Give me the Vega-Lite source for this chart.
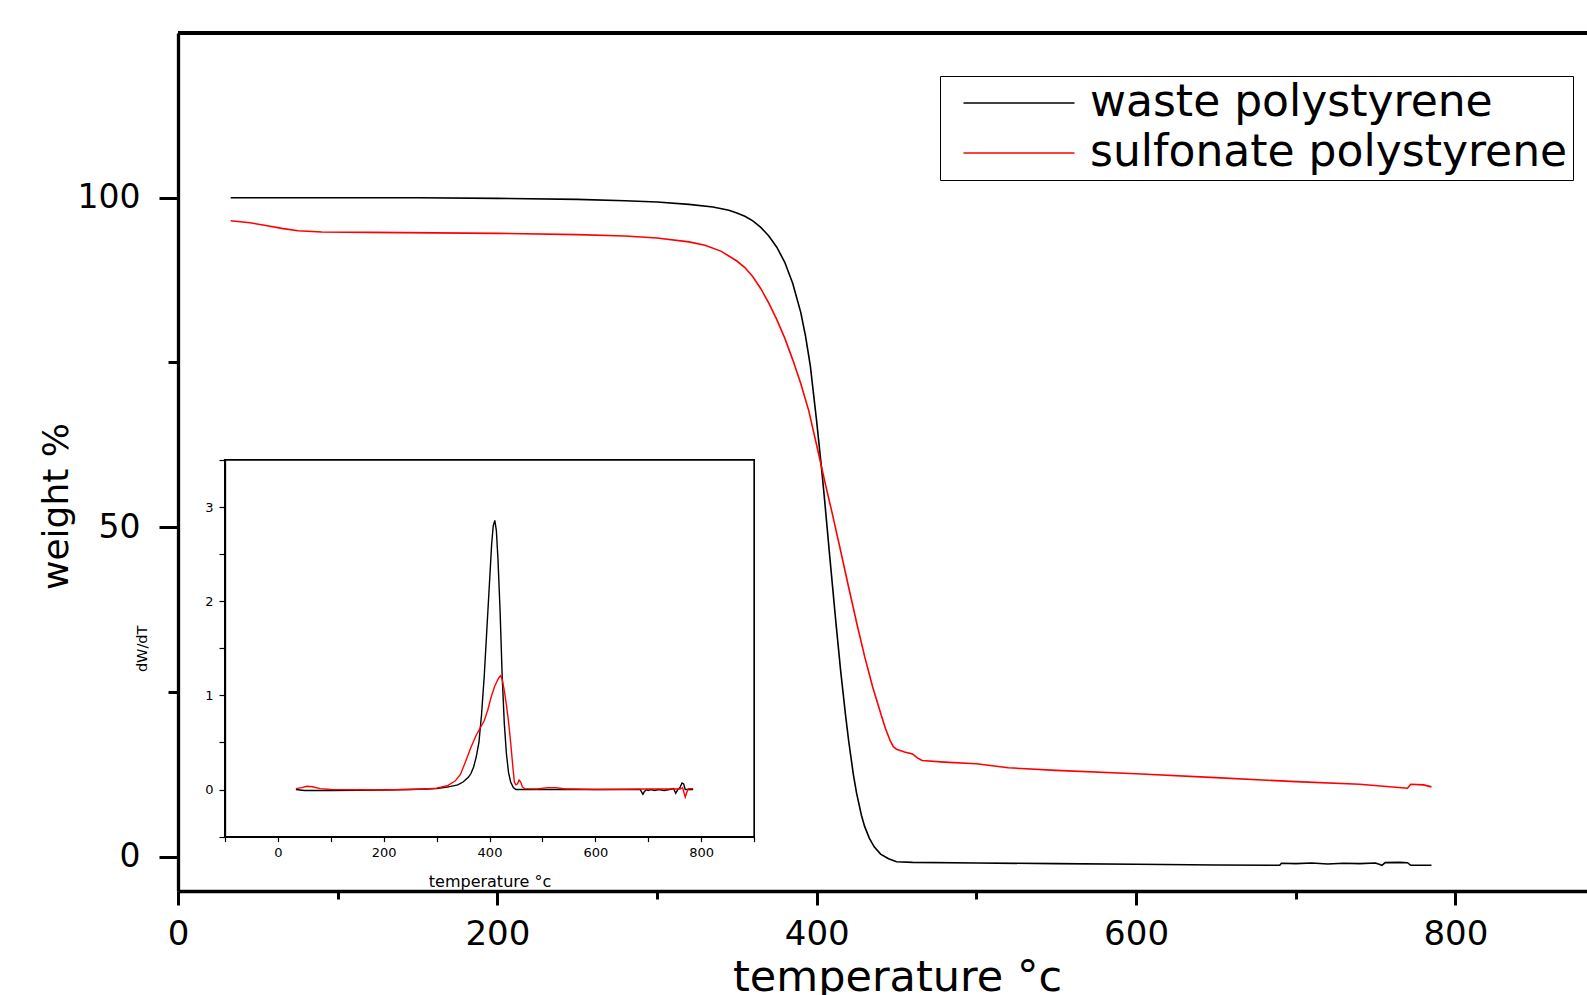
{
  "$schema": "https://vega.github.io/schema/vega-lite/v6.json",
  "width": 1409,
  "height": 858,
  "autosize": {"type": "none"},
  "padding": {"left": 178, "top": 33, "right": 0, "bottom": 104},
  "background": "white",
  "config": {"view": {"stroke": null}, "font": "DejaVu Sans"},
  "datasets": {
    "tga": [
      {"temp": 33, "weight": 100.0, "series": "waste polystyrene"},
      {"temp": 60, "weight": 100.0, "series": "waste polystyrene"},
      {"temp": 100, "weight": 100.0, "series": "waste polystyrene"},
      {"temp": 150, "weight": 100.0, "series": "waste polystyrene"},
      {"temp": 200, "weight": 99.9, "series": "waste polystyrene"},
      {"temp": 250, "weight": 99.75, "series": "waste polystyrene"},
      {"temp": 280, "weight": 99.55, "series": "waste polystyrene"},
      {"temp": 300, "weight": 99.35, "series": "waste polystyrene"},
      {"temp": 320, "weight": 99.0, "series": "waste polystyrene"},
      {"temp": 335, "weight": 98.6, "series": "waste polystyrene"},
      {"temp": 345, "weight": 98.1, "series": "waste polystyrene"},
      {"temp": 350, "weight": 97.7, "series": "waste polystyrene"},
      {"temp": 355, "weight": 97.2, "series": "waste polystyrene"},
      {"temp": 360, "weight": 96.5, "series": "waste polystyrene"},
      {"temp": 365, "weight": 95.5, "series": "waste polystyrene"},
      {"temp": 370, "weight": 94.2, "series": "waste polystyrene"},
      {"temp": 375, "weight": 92.5, "series": "waste polystyrene"},
      {"temp": 380, "weight": 90.2, "series": "waste polystyrene"},
      {"temp": 385, "weight": 87.0, "series": "waste polystyrene"},
      {"temp": 390, "weight": 82.6, "series": "waste polystyrene"},
      {"temp": 393, "weight": 79.0, "series": "waste polystyrene"},
      {"temp": 396, "weight": 74.5, "series": "waste polystyrene"},
      {"temp": 400, "weight": 66.0, "series": "waste polystyrene"},
      {"temp": 403, "weight": 59.0, "series": "waste polystyrene"},
      {"temp": 405, "weight": 54.0, "series": "waste polystyrene"},
      {"temp": 408, "weight": 46.0, "series": "waste polystyrene"},
      {"temp": 410, "weight": 40.8, "series": "waste polystyrene"},
      {"temp": 412, "weight": 35.6, "series": "waste polystyrene"},
      {"temp": 415, "weight": 28.2, "series": "waste polystyrene"},
      {"temp": 418, "weight": 21.6, "series": "waste polystyrene"},
      {"temp": 420, "weight": 17.6, "series": "waste polystyrene"},
      {"temp": 423, "weight": 12.4, "series": "waste polystyrene"},
      {"temp": 425, "weight": 9.6, "series": "waste polystyrene"},
      {"temp": 428, "weight": 6.3, "series": "waste polystyrene"},
      {"temp": 430, "weight": 4.6, "series": "waste polystyrene"},
      {"temp": 433, "weight": 2.8, "series": "waste polystyrene"},
      {"temp": 436, "weight": 1.5, "series": "waste polystyrene"},
      {"temp": 440, "weight": 0.4, "series": "waste polystyrene"},
      {"temp": 445, "weight": -0.3, "series": "waste polystyrene"},
      {"temp": 450, "weight": -0.75, "series": "waste polystyrene"},
      {"temp": 460, "weight": -0.85, "series": "waste polystyrene"},
      {"temp": 500, "weight": -0.95, "series": "waste polystyrene"},
      {"temp": 550, "weight": -1.05, "series": "waste polystyrene"},
      {"temp": 600, "weight": -1.15, "series": "waste polystyrene"},
      {"temp": 650, "weight": -1.25, "series": "waste polystyrene"},
      {"temp": 690, "weight": -1.3, "series": "waste polystyrene"},
      {"temp": 691, "weight": -1.0, "series": "waste polystyrene"},
      {"temp": 700, "weight": -1.05, "series": "waste polystyrene"},
      {"temp": 710, "weight": -0.95, "series": "waste polystyrene"},
      {"temp": 720, "weight": -1.1, "series": "waste polystyrene"},
      {"temp": 730, "weight": -1.0, "series": "waste polystyrene"},
      {"temp": 740, "weight": -1.05, "series": "waste polystyrene"},
      {"temp": 750, "weight": -0.95, "series": "waste polystyrene"},
      {"temp": 754, "weight": -1.3, "series": "waste polystyrene"},
      {"temp": 756, "weight": -0.9, "series": "waste polystyrene"},
      {"temp": 765, "weight": -0.85, "series": "waste polystyrene"},
      {"temp": 770, "weight": -0.9, "series": "waste polystyrene"},
      {"temp": 772, "weight": -1.3, "series": "waste polystyrene"},
      {"temp": 785, "weight": -1.3, "series": "waste polystyrene"},
      {"temp": 33, "weight": 96.5, "series": "sulfonate polystyrene"},
      {"temp": 45, "weight": 96.2, "series": "sulfonate polystyrene"},
      {"temp": 55, "weight": 95.8, "series": "sulfonate polystyrene"},
      {"temp": 65, "weight": 95.35, "series": "sulfonate polystyrene"},
      {"temp": 75, "weight": 95.0, "series": "sulfonate polystyrene"},
      {"temp": 90, "weight": 94.8, "series": "sulfonate polystyrene"},
      {"temp": 120, "weight": 94.75, "series": "sulfonate polystyrene"},
      {"temp": 200, "weight": 94.6, "series": "sulfonate polystyrene"},
      {"temp": 250, "weight": 94.4, "series": "sulfonate polystyrene"},
      {"temp": 280, "weight": 94.2, "series": "sulfonate polystyrene"},
      {"temp": 300, "weight": 93.9, "series": "sulfonate polystyrene"},
      {"temp": 320, "weight": 93.3, "series": "sulfonate polystyrene"},
      {"temp": 330, "weight": 92.8, "series": "sulfonate polystyrene"},
      {"temp": 340, "weight": 91.9, "series": "sulfonate polystyrene"},
      {"temp": 350, "weight": 90.4, "series": "sulfonate polystyrene"},
      {"temp": 355, "weight": 89.4, "series": "sulfonate polystyrene"},
      {"temp": 360, "weight": 88.0, "series": "sulfonate polystyrene"},
      {"temp": 365, "weight": 86.2, "series": "sulfonate polystyrene"},
      {"temp": 370, "weight": 84.0, "series": "sulfonate polystyrene"},
      {"temp": 375, "weight": 81.5, "series": "sulfonate polystyrene"},
      {"temp": 380, "weight": 78.7, "series": "sulfonate polystyrene"},
      {"temp": 385, "weight": 75.4, "series": "sulfonate polystyrene"},
      {"temp": 390, "weight": 71.8, "series": "sulfonate polystyrene"},
      {"temp": 395, "weight": 67.7, "series": "sulfonate polystyrene"},
      {"temp": 400, "weight": 62.4, "series": "sulfonate polystyrene"},
      {"temp": 405, "weight": 57.0, "series": "sulfonate polystyrene"},
      {"temp": 410, "weight": 51.8, "series": "sulfonate polystyrene"},
      {"temp": 415, "weight": 46.4, "series": "sulfonate polystyrene"},
      {"temp": 420, "weight": 40.9, "series": "sulfonate polystyrene"},
      {"temp": 425, "weight": 35.5, "series": "sulfonate polystyrene"},
      {"temp": 430, "weight": 30.4, "series": "sulfonate polystyrene"},
      {"temp": 435, "weight": 25.8, "series": "sulfonate polystyrene"},
      {"temp": 440, "weight": 21.8, "series": "sulfonate polystyrene"},
      {"temp": 443, "weight": 19.5, "series": "sulfonate polystyrene"},
      {"temp": 446, "weight": 17.6, "series": "sulfonate polystyrene"},
      {"temp": 448, "weight": 16.7, "series": "sulfonate polystyrene"},
      {"temp": 450, "weight": 16.3, "series": "sulfonate polystyrene"},
      {"temp": 455, "weight": 15.9, "series": "sulfonate polystyrene"},
      {"temp": 460, "weight": 15.6, "series": "sulfonate polystyrene"},
      {"temp": 463, "weight": 15.0, "series": "sulfonate polystyrene"},
      {"temp": 466, "weight": 14.6, "series": "sulfonate polystyrene"},
      {"temp": 480, "weight": 14.35, "series": "sulfonate polystyrene"},
      {"temp": 500, "weight": 14.1, "series": "sulfonate polystyrene"},
      {"temp": 520, "weight": 13.5, "series": "sulfonate polystyrene"},
      {"temp": 550, "weight": 13.1, "series": "sulfonate polystyrene"},
      {"temp": 600, "weight": 12.6, "series": "sulfonate polystyrene"},
      {"temp": 650, "weight": 12.0, "series": "sulfonate polystyrene"},
      {"temp": 700, "weight": 11.4, "series": "sulfonate polystyrene"},
      {"temp": 740, "weight": 11.0, "series": "sulfonate polystyrene"},
      {"temp": 770, "weight": 10.4, "series": "sulfonate polystyrene"},
      {"temp": 772, "weight": 11.0, "series": "sulfonate polystyrene"},
      {"temp": 780, "weight": 10.9, "series": "sulfonate polystyrene"},
      {"temp": 785, "weight": 10.6, "series": "sulfonate polystyrene"}
    ],
    "dtg": [
      {"temp": 34, "dwdt": 0.0, "series": "waste polystyrene"},
      {"temp": 50, "dwdt": -0.01, "series": "waste polystyrene"},
      {"temp": 100, "dwdt": -0.01, "series": "waste polystyrene"},
      {"temp": 200, "dwdt": -0.005, "series": "waste polystyrene"},
      {"temp": 250, "dwdt": 0.0, "series": "waste polystyrene"},
      {"temp": 280, "dwdt": 0.005, "series": "waste polystyrene"},
      {"temp": 300, "dwdt": 0.01, "series": "waste polystyrene"},
      {"temp": 320, "dwdt": 0.025, "series": "waste polystyrene"},
      {"temp": 340, "dwdt": 0.05, "series": "waste polystyrene"},
      {"temp": 350, "dwdt": 0.08, "series": "waste polystyrene"},
      {"temp": 360, "dwdt": 0.13, "series": "waste polystyrene"},
      {"temp": 365, "dwdt": 0.17, "series": "waste polystyrene"},
      {"temp": 370, "dwdt": 0.24, "series": "waste polystyrene"},
      {"temp": 375, "dwdt": 0.35, "series": "waste polystyrene"},
      {"temp": 380, "dwdt": 0.5, "series": "waste polystyrene"},
      {"temp": 385, "dwdt": 0.8, "series": "waste polystyrene"},
      {"temp": 390, "dwdt": 1.2, "series": "waste polystyrene"},
      {"temp": 395, "dwdt": 1.7, "series": "waste polystyrene"},
      {"temp": 400, "dwdt": 2.2, "series": "waste polystyrene"},
      {"temp": 404, "dwdt": 2.6, "series": "waste polystyrene"},
      {"temp": 407, "dwdt": 2.8, "series": "waste polystyrene"},
      {"temp": 410, "dwdt": 2.86, "series": "waste polystyrene"},
      {"temp": 413, "dwdt": 2.75, "series": "waste polystyrene"},
      {"temp": 416, "dwdt": 2.45, "series": "waste polystyrene"},
      {"temp": 420, "dwdt": 1.9, "series": "waste polystyrene"},
      {"temp": 424, "dwdt": 1.2, "series": "waste polystyrene"},
      {"temp": 428, "dwdt": 0.7, "series": "waste polystyrene"},
      {"temp": 432, "dwdt": 0.38, "series": "waste polystyrene"},
      {"temp": 436, "dwdt": 0.18, "series": "waste polystyrene"},
      {"temp": 440, "dwdt": 0.08, "series": "waste polystyrene"},
      {"temp": 445, "dwdt": 0.02, "series": "waste polystyrene"},
      {"temp": 450, "dwdt": 0.0, "series": "waste polystyrene"},
      {"temp": 500, "dwdt": 0.0, "series": "waste polystyrene"},
      {"temp": 600, "dwdt": 0.0, "series": "waste polystyrene"},
      {"temp": 685, "dwdt": 0.0, "series": "waste polystyrene"},
      {"temp": 690, "dwdt": -0.05, "series": "waste polystyrene"},
      {"temp": 693, "dwdt": -0.02, "series": "waste polystyrene"},
      {"temp": 697, "dwdt": 0.0, "series": "waste polystyrene"},
      {"temp": 700, "dwdt": -0.01, "series": "waste polystyrene"},
      {"temp": 705, "dwdt": 0.0, "series": "waste polystyrene"},
      {"temp": 712, "dwdt": -0.01, "series": "waste polystyrene"},
      {"temp": 720, "dwdt": 0.0, "series": "waste polystyrene"},
      {"temp": 730, "dwdt": -0.01, "series": "waste polystyrene"},
      {"temp": 740, "dwdt": 0.0, "series": "waste polystyrene"},
      {"temp": 748, "dwdt": 0.01, "series": "waste polystyrene"},
      {"temp": 752, "dwdt": -0.04, "series": "waste polystyrene"},
      {"temp": 756, "dwdt": 0.0, "series": "waste polystyrene"},
      {"temp": 760, "dwdt": 0.02, "series": "waste polystyrene"},
      {"temp": 764, "dwdt": 0.07, "series": "waste polystyrene"},
      {"temp": 767, "dwdt": 0.06, "series": "waste polystyrene"},
      {"temp": 770, "dwdt": 0.0, "series": "waste polystyrene"},
      {"temp": 775, "dwdt": 0.0, "series": "waste polystyrene"},
      {"temp": 785, "dwdt": 0.0, "series": "waste polystyrene"},
      {"temp": 34, "dwdt": 0.01, "series": "sulfonate polystyrene"},
      {"temp": 45, "dwdt": 0.02, "series": "sulfonate polystyrene"},
      {"temp": 55, "dwdt": 0.035, "series": "sulfonate polystyrene"},
      {"temp": 65, "dwdt": 0.03, "series": "sulfonate polystyrene"},
      {"temp": 80, "dwdt": 0.01, "series": "sulfonate polystyrene"},
      {"temp": 100, "dwdt": 0.0, "series": "sulfonate polystyrene"},
      {"temp": 200, "dwdt": -0.005, "series": "sulfonate polystyrene"},
      {"temp": 280, "dwdt": 0.005, "series": "sulfonate polystyrene"},
      {"temp": 300, "dwdt": 0.015, "series": "sulfonate polystyrene"},
      {"temp": 320, "dwdt": 0.04, "series": "sulfonate polystyrene"},
      {"temp": 335, "dwdt": 0.09, "series": "sulfonate polystyrene"},
      {"temp": 345, "dwdt": 0.16, "series": "sulfonate polystyrene"},
      {"temp": 355, "dwdt": 0.3, "series": "sulfonate polystyrene"},
      {"temp": 365, "dwdt": 0.45, "series": "sulfonate polystyrene"},
      {"temp": 375, "dwdt": 0.58, "series": "sulfonate polystyrene"},
      {"temp": 383, "dwdt": 0.66, "series": "sulfonate polystyrene"},
      {"temp": 390, "dwdt": 0.73, "series": "sulfonate polystyrene"},
      {"temp": 397, "dwdt": 0.85, "series": "sulfonate polystyrene"},
      {"temp": 403, "dwdt": 0.98, "series": "sulfonate polystyrene"},
      {"temp": 410, "dwdt": 1.1, "series": "sulfonate polystyrene"},
      {"temp": 416, "dwdt": 1.17, "series": "sulfonate polystyrene"},
      {"temp": 419, "dwdt": 1.2, "series": "sulfonate polystyrene"},
      {"temp": 421, "dwdt": 1.21, "series": "sulfonate polystyrene"},
      {"temp": 424, "dwdt": 1.17, "series": "sulfonate polystyrene"},
      {"temp": 428, "dwdt": 1.05, "series": "sulfonate polystyrene"},
      {"temp": 432, "dwdt": 0.9, "series": "sulfonate polystyrene"},
      {"temp": 436, "dwdt": 0.72, "series": "sulfonate polystyrene"},
      {"temp": 440, "dwdt": 0.5, "series": "sulfonate polystyrene"},
      {"temp": 444, "dwdt": 0.25, "series": "sulfonate polystyrene"},
      {"temp": 447, "dwdt": 0.08, "series": "sulfonate polystyrene"},
      {"temp": 450, "dwdt": 0.05, "series": "sulfonate polystyrene"},
      {"temp": 453, "dwdt": 0.06, "series": "sulfonate polystyrene"},
      {"temp": 456, "dwdt": 0.1, "series": "sulfonate polystyrene"},
      {"temp": 459, "dwdt": 0.08, "series": "sulfonate polystyrene"},
      {"temp": 462, "dwdt": 0.03, "series": "sulfonate polystyrene"},
      {"temp": 466, "dwdt": 0.01, "series": "sulfonate polystyrene"},
      {"temp": 490, "dwdt": 0.005, "series": "sulfonate polystyrene"},
      {"temp": 510, "dwdt": 0.02, "series": "sulfonate polystyrene"},
      {"temp": 525, "dwdt": 0.02, "series": "sulfonate polystyrene"},
      {"temp": 540, "dwdt": 0.008, "series": "sulfonate polystyrene"},
      {"temp": 600, "dwdt": 0.0, "series": "sulfonate polystyrene"},
      {"temp": 700, "dwdt": 0.005, "series": "sulfonate polystyrene"},
      {"temp": 760, "dwdt": 0.005, "series": "sulfonate polystyrene"},
      {"temp": 765, "dwdt": 0.02, "series": "sulfonate polystyrene"},
      {"temp": 768, "dwdt": -0.04, "series": "sulfonate polystyrene"},
      {"temp": 770, "dwdt": -0.08, "series": "sulfonate polystyrene"},
      {"temp": 773, "dwdt": -0.03, "series": "sulfonate polystyrene"},
      {"temp": 776, "dwdt": 0.01, "series": "sulfonate polystyrene"},
      {"temp": 785, "dwdt": 0.01, "series": "sulfonate polystyrene"}
    ]
  },
  "layer": [
    {
      "data": {"name": "tga"},
      "layer": [
        {
          "mark": {"type": "rule", "color": "black", "strokeWidth": 3},
          "encoding": {
            "y": {
              "datum": 125, "type": "quantitative",
              "scale": {"domain": [-5.2, 125], "nice": false, "zero": false},
              "axis": {
                "title": "weight %",
                "values": [0, 25, 50, 75, 100],
                "labelExpr": "datum.value % 50 === 0 ? datum.label : ''",
                "grid": false,
                "domainColor": "black", "domainWidth": 3.3,
                "tickColor": "black", "tickWidth": 3,
                "tickSize": {"condition": {"test": "datum.value % 50 === 0", "value": 19}, "value": 10},
                "labelFont": "DejaVu Sans", "labelFontSize": 33, "labelColor": "black",
                "labelPadding": 19, "labelFlush": false, "labelOverlap": false,
                "titleFont": "DejaVu Sans", "titleFontSize": 36, "titleFontWeight": "normal", "titleColor": "black",
                "titleX": -122, "titleY": 473, "titleAngle": -90, "titleAlign": "center", "titleBaseline": "middle"
              }
            }
          }
        },
        {
          "mark": {"type": "line", "strokeWidth": 1.6},
          "encoding": {
            "x": {
              "field": "temp", "type": "quantitative",
              "scale": {"domain": [0, 882.4], "nice": false, "zero": false},
              "axis": {
                "title": "temperature °c",
                "values": [0, 100, 200, 300, 400, 500, 600, 700, 800],
                "labelExpr": "datum.value % 200 === 0 ? datum.label : ''",
                "grid": false,
                "domainColor": "black", "domainWidth": 3.3,
                "tickColor": "black", "tickWidth": 3,
                "tickSize": {"condition": {"test": "datum.value % 200 === 0", "value": 14}, "value": 8},
                "labelFont": "DejaVu Sans", "labelFontSize": 34, "labelColor": "black",
                "labelPadding": 12, "labelFlush": false, "labelOverlap": false,
                "titleFont": "DejaVu Sans", "titleFontSize": 43, "titleFontWeight": "normal", "titleColor": "black",
                "titleX": 719, "titleY": 99, "titleAlign": "center", "titleBaseline": "alphabetic"
              }
            },
            "y": {
              "field": "weight", "type": "quantitative",
              "scale": {"domain": [-5.2, 125], "nice": false, "zero": false},
              "axis": {
                "title": "weight %",
                "values": [0, 25, 50, 75, 100],
                "labelExpr": "datum.value % 50 === 0 ? datum.label : ''",
                "grid": false,
                "domainColor": "black", "domainWidth": 3.3,
                "tickColor": "black", "tickWidth": 3,
                "tickSize": {"condition": {"test": "datum.value % 50 === 0", "value": 19}, "value": 10},
                "labelFont": "DejaVu Sans", "labelFontSize": 33, "labelColor": "black",
                "labelPadding": 19, "labelFlush": false, "labelOverlap": false,
                "titleFont": "DejaVu Sans", "titleFontSize": 36, "titleFontWeight": "normal", "titleColor": "black",
                "titleX": -122, "titleY": 473, "titleAngle": -90, "titleAlign": "center", "titleBaseline": "middle"
              }
            },
            "color": {
              "field": "series", "type": "nominal",
              "scale": {"domain": ["waste polystyrene", "sulfonate polystyrene"], "range": ["#000000", "#ff0000"]},
              "legend": {
                "orient": "none", "legendX": 762, "legendY": 43, "direction": "vertical",
                "title": null, "symbolType": "M-5,0H5", "symbolSize": 493, "symbolStrokeWidth": 1.5,
                "symbolOffset": 52, "labelOffset": 49,
                "labelFont": "DejaVu Sans", "labelFontSize": 44, "labelColor": "black", "labelLimit": 0,
                "strokeColor": "black", "fillColor": "white", "padding": 5, "rowPadding": 6
              }
            }
          }
        }
      ]
    },
    {
      "data": {"name": "dtg"},
      "layer": [
        {
          "mark": {"type": "rect", "fill": "white", "stroke": "black", "strokeWidth": 1.3},
          "encoding": {
            "x": {
              "datum": -100, "type": "quantitative",
              "scale": {"domain": [-100, 900], "range": [47, 576], "nice": false, "zero": false},
              "axis": {
                "orient": "bottom", "offset": -54.4, "zindex": 1,
                "title": "temperature °c",
                "values": [-100, 0, 100, 200, 300, 400, 500, 600, 700, 800, 900],
                "labelExpr": "datum.value >= 0 && datum.value <= 800 && datum.value % 200 === 0 ? datum.label : ''",
                "grid": false,
                "domainColor": "black", "domainWidth": 1.3,
                "tickColor": "black", "tickWidth": 1.2, "tickSize": 5,
                "labelFont": "DejaVu Sans", "labelFontSize": 13, "labelColor": "black",
                "labelPadding": 5, "labelFlush": false, "labelOverlap": false,
                "titleFont": "DejaVu Sans", "titleFontSize": 16, "titleFontWeight": "normal", "titleColor": "black",
                "titlePadding": 14
              }
            },
            "x2": {"datum": 900},
            "y": {
              "datum": -0.5, "type": "quantitative",
              "scale": {"domain": [-0.5, 3.5], "range": [803.6, 427.1], "nice": false, "zero": false},
              "axis": {
                "orient": "left", "offset": -47, "zindex": 1,
                "title": "dW/dT",
                "values": [-0.5, 0, 0.5, 1, 1.5, 2, 2.5, 3, 3.5],
                "labelExpr": "(datum.value == 0 || datum.value == 1 || datum.value == 2 || datum.value == 3) ? format(datum.value, 'd') : ''",
                "grid": false,
                "domainColor": "black", "domainWidth": 1.3,
                "tickColor": "black", "tickWidth": 1.2, "tickSize": 6,
                "labelFont": "DejaVu Sans", "labelFontSize": 13, "labelColor": "black",
                "labelPadding": 6, "labelFlush": false, "labelOverlap": false,
                "titleFont": "DejaVu Sans", "titleFontSize": 14.5, "titleFontWeight": "normal", "titleColor": "black",
                "titlePadding": 55
              }
            },
            "y2": {"datum": 3.5}
          }
        },
        {
          "mark": {"type": "line", "strokeWidth": 1.4},
          "encoding": {
            "x": {
              "field": "temp", "type": "quantitative",
              "scale": {"domain": [-100, 900], "range": [47, 576], "nice": false, "zero": false},
              "axis": {
                "orient": "bottom", "offset": -54.4, "zindex": 1,
                "title": "temperature °c",
                "values": [-100, 0, 100, 200, 300, 400, 500, 600, 700, 800, 900],
                "labelExpr": "datum.value >= 0 && datum.value <= 800 && datum.value % 200 === 0 ? datum.label : ''",
                "grid": false,
                "domainColor": "black", "domainWidth": 1.3,
                "tickColor": "black", "tickWidth": 1.2, "tickSize": 5,
                "labelFont": "DejaVu Sans", "labelFontSize": 13, "labelColor": "black",
                "labelPadding": 5, "labelFlush": false, "labelOverlap": false,
                "titleFont": "DejaVu Sans", "titleFontSize": 16, "titleFontWeight": "normal", "titleColor": "black",
                "titlePadding": 14
              }
            },
            "y": {
              "field": "dwdt", "type": "quantitative",
              "scale": {"domain": [-0.5, 3.5], "range": [803.6, 427.1], "nice": false, "zero": false},
              "axis": {
                "orient": "left", "offset": -47, "zindex": 1,
                "title": "dW/dT",
                "values": [-0.5, 0, 0.5, 1, 1.5, 2, 2.5, 3, 3.5],
                "labelExpr": "(datum.value == 0 || datum.value == 1 || datum.value == 2 || datum.value == 3) ? format(datum.value, 'd') : ''",
                "grid": false,
                "domainColor": "black", "domainWidth": 1.3,
                "tickColor": "black", "tickWidth": 1.2, "tickSize": 6,
                "labelFont": "DejaVu Sans", "labelFontSize": 13, "labelColor": "black",
                "labelPadding": 6, "labelFlush": false, "labelOverlap": false,
                "titleFont": "DejaVu Sans", "titleFontSize": 14.5, "titleFontWeight": "normal", "titleColor": "black",
                "titlePadding": 55
              }
            },
            "color": {
              "field": "series", "type": "nominal",
              "scale": {"domain": ["waste polystyrene", "sulfonate polystyrene"], "range": ["#000000", "#ff0000"]},
              "legend": {
                "orient": "none", "legendX": 762, "legendY": 43, "direction": "vertical",
                "title": null, "symbolType": "M-5,0H5", "symbolSize": 493, "symbolStrokeWidth": 1.5,
                "symbolOffset": 52, "labelOffset": 49,
                "labelFont": "DejaVu Sans", "labelFontSize": 44, "labelColor": "black", "labelLimit": 0,
                "strokeColor": "black", "fillColor": "white", "padding": 5, "rowPadding": 6
              }
            }
          }
        }
      ]
    }
  ],
  "resolve": {
    "scale": {"x": "independent", "y": "independent"},
    "axis": {"x": "independent", "y": "independent"}
  }
}
